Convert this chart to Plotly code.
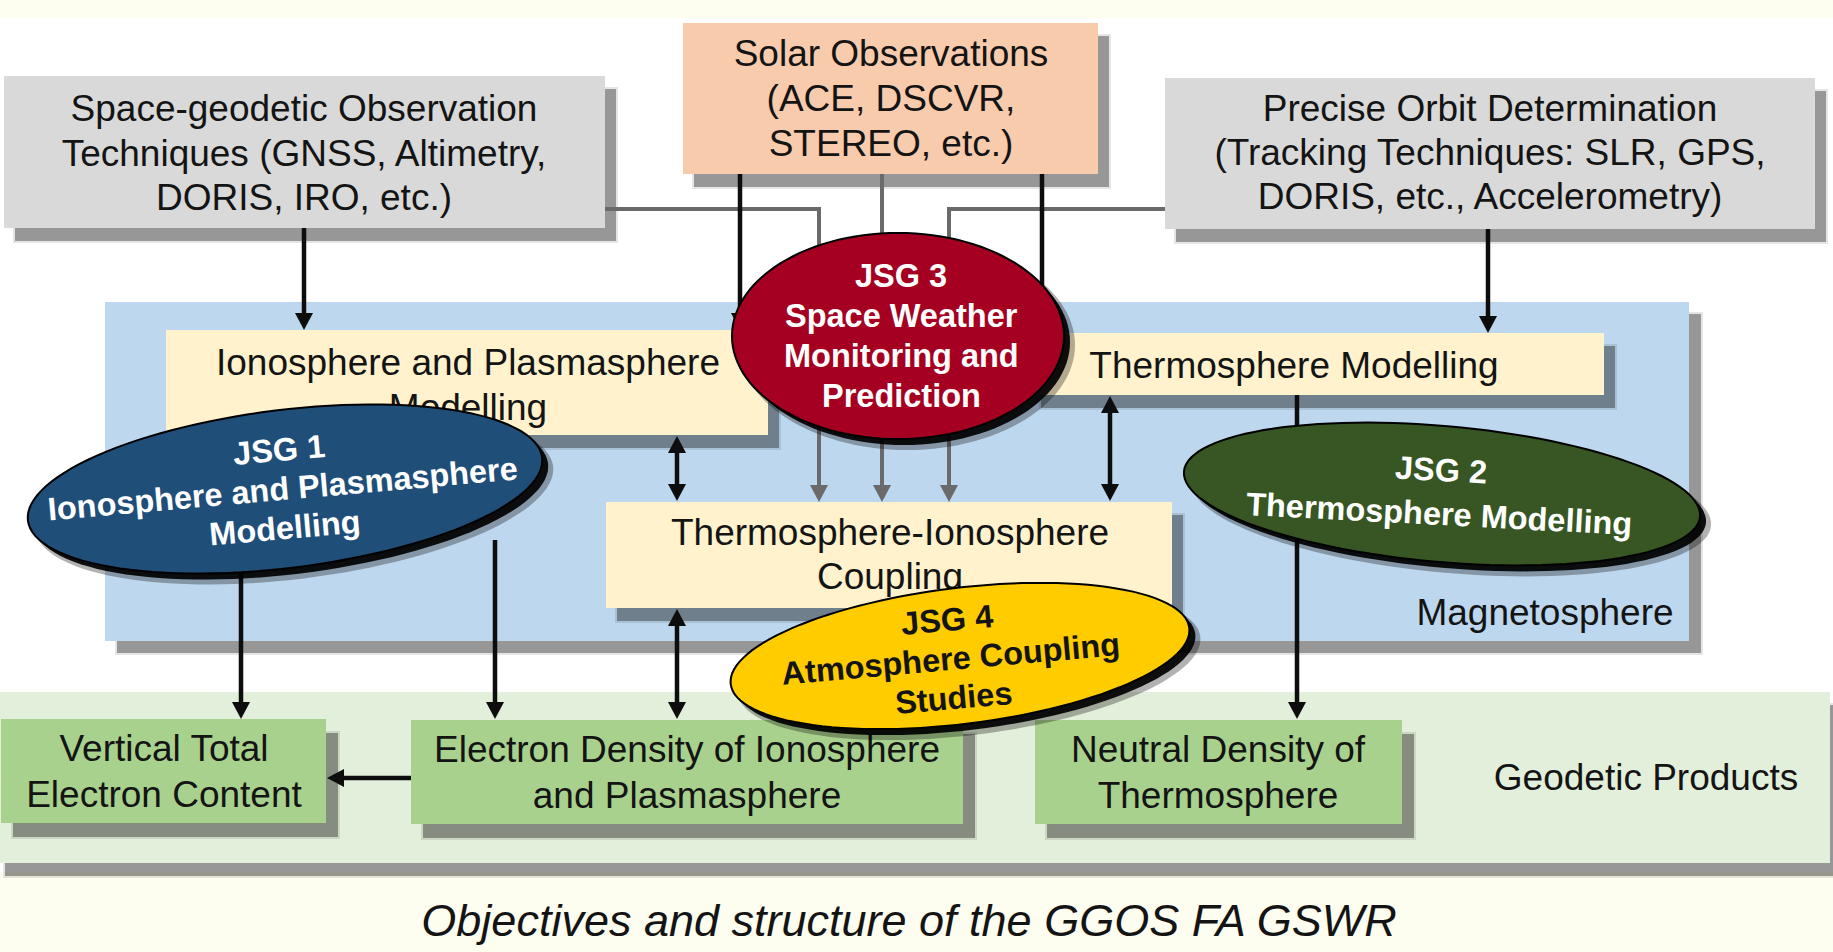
import numpy as np
import plotly.graph_objects as go

W, H = 1833, 952

# ---------------- text content ----------------
source_labels = [
    "Space-geodetic Observation|Techniques (GNSS, Altimetry,|DORIS, IRO, etc.)",
    "Solar Observations|(ACE, DSCVR,|STEREO, etc.)",
    "Precise Orbit Determination|(Tracking Techniques: SLR, GPS,|DORIS, etc., Accelerometry)",
]
model_labels = [
    "Ionosphere and Plasmasphere|Modelling",
    "Thermosphere Modelling",
    "Thermosphere-Ionosphere|Coupling",
]
product_labels = [
    "Vertical Total|Electron Content",
    "Electron Density of Ionosphere|and Plasmasphere",
    "Neutral Density of|Thermosphere",
]
region_labels = ["Magnetosphere", "Geodetic Products"]
jsg_labels = [
    "JSG 1|Ionosphere and Plasmasphere|Modelling",
    "JSG 2|Thermosphere Modelling",
    "JSG 3|Space Weather|Monitoring and|Prediction",
    "JSG 4|Atmosphere Coupling|Studies",
]
caption = "Objectives and structure of the GGOS FA GSWR"

# ---------------- layout geometry (pixels) ----------------
source_boxes = [(4, 76, 605, 228), (683, 23, 1098, 174), (1165, 78, 1815, 229)]
source_text = [(304, 112, 44.5), (891, 57, 45), (1490, 112, 44)]
model_boxes = [(166, 330, 768, 435), (1030, 333, 1604, 395), (606, 502, 1172, 608)]
model_text = [(468, 366, 45), (1294, 369, 45), (890, 536, 44)]
product_boxes = [(1, 719, 326, 823), (411, 720, 963, 824), (1035, 720, 1402, 824)]
product_text = [(164, 752, 46), (687, 753, 46), (1218, 753, 46)]
region_boxes = [(105, 302, 1689, 641), (-5, 692, 1830, 863)]
region_text = [(1545, 616), (1646, 781)]
# ellipses: cx, cy, a, b, angle ; text: cx, cy, spacing, text angle
jsg_ell = [(285, 489, 259, 79, -7), (1442, 494, 259, 68, 5),
           (898, 336, 166, 103, 0), (960, 656, 231, 68, -7)]
jsg_txt = [(282, 489, 39, -5), (1440, 492, 44, 3), (901, 336, 40, 0), (950, 659, 39, -5)]
caption_pos = (909, 925)

# ---------------- styles ----------------
FONT = "Liberation Sans, Arial, Helvetica, sans-serif"
TXT = "#141414"
c_page = "#FDFDF0"
c_source = ["#D9D9D9", "#F8CBAD", "#D9D9D9"]
c_model = "#FFF2CC"
c_product = "#A9D18E"
c_region = ["#BDD7EE", "#E2EFDA"]
c_jsg = ["#1F4E79", "#375623", "#A50021", "#FFCC00"]
c_jsg_txt = ["white", "white", "white", TXT]

shapes = []


def rect(x0, y0, x1, y1, fill, layer="below"):
    shapes.append(dict(type="rect", xref="x", yref="y", x0=x0, y0=y0, x1=x1, y1=y1,
                       fillcolor=fill, line=dict(width=0), layer=layer))


def shadow_box(box, fill, dx=11, dy=13):
    x0, y0, x1, y1 = box
    rect(x0 + dx - 2, y0 + dy - 2, x1 + dx + 2, y1 + dy + 2, "rgba(0,0,0,0.10)")
    rect(x0 + dx, y0 + dy, x1 + dx, y1 + dy, "rgba(0,0,0,0.34)")
    rect(x0, y0, x1, y1, fill)


def path(pts, close=False):
    s = "M " + " L ".join(f"{x:.1f},{y:.1f}" for x, y in pts)
    return s + (" Z" if close else "")


def head(tip, frm, color, hl=17, hw=18):
    tx, ty = tip
    fx, fy = frm
    L = np.hypot(tx - fx, ty - fy)
    ux, uy = (tx - fx) / L, (ty - fy) / L
    bx, by = tx - ux * hl, ty - uy * hl
    px, py = -uy * hw / 2, ux * hw / 2
    shapes.append(dict(type="path", xref="x", yref="y", layer="below",
                       path=path([(tx, ty), (bx + px, by + py), (bx - px, by - py)], True),
                       fillcolor=color, line=dict(width=0)))


def arrow(pts, color="#0d0d0d", width=4.5, start=False, end=True, hl=17, hw=18):
    pts = [list(p) for p in pts]
    draw = [p[:] for p in pts]
    if end:
        (ax, ay), (bx, by) = pts[-2], pts[-1]
        L = np.hypot(bx - ax, by - ay)
        draw[-1] = [bx - (bx - ax) / L * (hl - 3), by - (by - ay) / L * (hl - 3)]
    if start:
        (ax, ay), (bx, by) = pts[1], pts[0]
        L = np.hypot(bx - ax, by - ay)
        draw[0] = [bx - (bx - ax) / L * (hl - 3), by - (by - ay) / L * (hl - 3)]
    shapes.append(dict(type="path", xref="x", yref="y", layer="below", path=path(draw),
                       line=dict(color=color, width=width)))
    if end:
        head(pts[-1], pts[-2], color, hl, hw)
    if start:
        head(pts[0], pts[1], color, hl, hw)


# background
rect(0, 0, W, H, c_page)
rect(0, 18, W, 872, "white")

# regions
shadow_box(region_boxes[1], c_region[1], dx=10, dy=13)
shadow_box(region_boxes[0], c_region[0], dx=12, dy=12)

# source boxes
for b, c in zip(source_boxes, c_source):
    shadow_box(b, c)

# connectors (gray)
GRAY = "#6A6A6A"
arrow([(605, 209), (819, 209), (819, 502)], GRAY, 4)
arrow([(882, 174), (882, 502)], GRAY, 4)
arrow([(1165, 209), (949, 209), (949, 502)], GRAY, 4)

# black connectors
arrow([(304, 228), (304, 330)])
arrow([(1488, 229), (1488, 333)])
arrow([(740, 174), (740, 330)])
arrow([(1042, 174), (1042, 333)])

# model boxes
for b in model_boxes:
    shadow_box(b, c_model)

# product boxes
for b in product_boxes:
    shadow_box(b, c_product, dx=12, dy=14)

arrow([(677, 436), (677, 501)], start=True)
arrow([(1110, 396), (1110, 501)], start=True)
arrow([(677, 609), (677, 719)], start=True)
arrow([(241, 560), (241, 719)])
arrow([(495, 540), (495, 719)])
arrow([(1297, 395), (1297, 719)])
arrow([(411, 778), (327, 778)])


# ellipses (drawn above text traces)
def ellipse_pts(cx, cy, a, b, ang, n=120):
    t = np.linspace(0, 2 * np.pi, n, endpoint=False)
    th = np.radians(ang)
    xs = cx + a * np.cos(t) * np.cos(th) - b * np.sin(t) * np.sin(th)
    ys = cy + a * np.cos(t) * np.sin(th) + b * np.sin(t) * np.cos(th)
    return list(zip(xs, ys))


for (cx, cy, a, b, ang), col in zip(jsg_ell, c_jsg):
    shapes.append(dict(type="path", xref="x", yref="y", layer="above",
                       path=path(ellipse_pts(cx + 9, cy + 9, a + 2, b + 2, ang), True),
                       fillcolor="rgba(0,0,0,0.30)", line=dict(width=0)))
    shapes.append(dict(type="path", xref="x", yref="y", layer="above",
                       path=path(ellipse_pts(cx + 6, cy + 6, a, b, ang), True),
                       fillcolor="rgba(0,0,0,0.92)", line=dict(width=0)))
    shapes.append(dict(type="path", xref="x", yref="y", layer="above",
                       path=path(ellipse_pts(cx, cy, a, b, ang), True),
                       fillcolor=col, line=dict(color="#000000", width=2)))

# ---------------- text traces ----------------
tx, ty, tt = [], [], []


def add_lines(label, anchor):
    x, y0, sp = anchor
    for i, ln in enumerate(label.split("|")):
        tx.append(x)
        ty.append(y0 + i * sp)
        tt.append(ln)


for lab, anc in zip(source_labels, source_text):
    add_lines(lab, anc)
for lab, anc in zip(model_labels, model_text):
    add_lines(lab, anc)
for lab, anc in zip(product_labels, product_text):
    add_lines(lab, anc)
for lab, (x, y) in zip(region_labels, region_text):
    add_lines(lab, (x, y, 0))

fig = go.Figure()
fig.add_trace(go.Scatter(x=tx, y=ty, text=tt, mode="text", textposition="middle center",
                         textfont=dict(family=FONT, size=37, color=TXT),
                         hoverinfo="skip", showlegend=False))
fig.add_trace(go.Scatter(x=[caption_pos[0]], y=[caption_pos[1]], text=[caption], mode="text",
                         textposition="middle center", cliponaxis=False,
                         textfont=dict(family=FONT, size=45, color=TXT, style="italic"),
                         hoverinfo="skip", showlegend=False))

annotations = []
for lab, (cx, cy, sp, ang), col in zip(jsg_labels, jsg_txt, c_jsg_txt):
    lines = lab.split("|")
    n = len(lines)
    th = np.radians(ang)
    for i, ln in enumerate(lines):
        d = (i - (n - 1) / 2) * sp
        annotations.append(dict(x=cx - d * np.sin(th), y=cy + d * np.cos(th), xref="x", yref="y",
                                text=f"<b>{ln}</b>", showarrow=False, textangle=ang,
                                font=dict(family=FONT, size=32.5, color=col),
                                xanchor="center", yanchor="middle"))

fig.update_layout(
    width=W, height=H, margin=dict(l=0, r=0, t=0, b=0),
    paper_bgcolor=c_page, plot_bgcolor=c_page,
    xaxis=dict(range=[0, W], visible=False, fixedrange=True),
    yaxis=dict(range=[H, 0], visible=False, fixedrange=True),
    shapes=shapes, annotations=annotations, showlegend=False,
)

fig.write_html("out.html", config={"displayModeBar": False, "staticPlot": True},
               post_script="document.body.style.margin='0';document.body.style.overflow='hidden';")
